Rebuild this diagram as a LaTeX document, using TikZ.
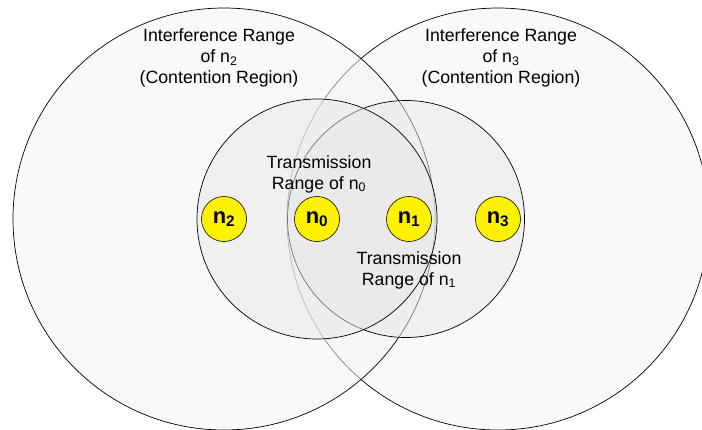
\documentclass[tikz,border=0pt]{standalone}
\usepackage{fontspec}
\setmainfont{Liberation Sans}
\begin{document}
\begin{tikzpicture}[x=1bp,y=-1bp,
  bigrange/.style={draw=black, line width=0.7bp, fill=black!4, fill opacity=0.55},
  txrange/.style={draw=black, line width=0.7bp, fill=black!9, fill opacity=0.5},
  station/.style={circle, draw=black, line width=0.6bp, fill=yellow, minimum size=45bp, inner sep=0pt,
    font=\fontsize{22}{26}\selectfont\bfseries},
  lbl/.style={align=center, font=\fontsize{17.8}{21}\selectfont, text=black, inner sep=0pt}]
\useasboundingbox (0,0) rectangle (702,429);
\clip (0,0) rectangle (702,429);
\fill[white] (0,0) rectangle (702,429);
% interference ranges
\path[bigrange] (498,219) circle (211);
\path[bigrange] (224,219) circle (211);
% transmission ranges
\path[txrange] (406,219) circle (118.5);
\path[txrange] (317,219) circle (120);
% stations
\node[station] (n2) at (224,219) {n\textsubscript{2}};
\node[station] (n0) at (317,219) {n\textsubscript{0}};
\node[station] (n1) at (409,219) {n\textsubscript{1}};
\node[station] (n3) at (498,219) {n\textsubscript{3}};
% labels
\node[lbl] (irn2) at (219,58) {Interference Range\\of n\textsubscript{2}\\(Contention Region)};
\node[lbl] (irn3) at (501,58) {Interference Range\\of n\textsubscript{3}\\(Contention Region)};
\node[lbl] (trn0) at (319,174) {Transmission\\Range of n\textsubscript{0}};
\node[lbl] (trn1) at (409,270) {Transmission\\Range of n\textsubscript{1}};
\end{tikzpicture}
\end{document}
